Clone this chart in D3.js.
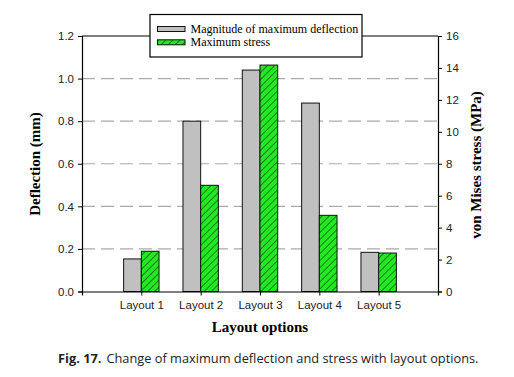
<!DOCTYPE html>
<html><head><meta charset="utf-8">
<script src="https://cdn.jsdelivr.net/npm/d3@7"></script>
<style>body{margin:0;background:#fff}svg{display:block}</style>
</head><body>
<svg id="c" width="514" height="377"></svg>
<script>
const categories = ["Layout 1","Layout 2","Layout 3","Layout 4","Layout 5"];
const deflection = [0.153, 0.80, 1.04, 0.885, 0.184];
const stress = [2.52, 6.65, 14.18, 4.77, 2.41];
const leftTicks = [0,0.2,0.4,0.6,0.8,1.0,1.2];
const rightTicks = [0,2,4,6,8,10,12,14,16];
const seriesNames = ["Magnitude of maximum deflection","Maximum stress"];

const svg = d3.select("#c");
const L=82, R=438, T=36, B=291.5;
const x = d3.scaleLinear().domain([0,6]).range([L,R]);
const yL = d3.scaleLinear().domain([0,1.2]).range([B,T]);
const yR = d3.scaleLinear().domain([0,16]).range([B,T]);
const bw = 17.7;
const green = "#22ea22";

const defs = svg.append("defs");
const pat = defs.append("pattern").attr("id","hatch").attr("patternUnits","userSpaceOnUse")
  .attr("width",5).attr("height",5).attr("patternTransform","rotate(45)");
pat.append("rect").attr("width",5).attr("height",5).attr("fill",green);
pat.append("line").attr("x1",0).attr("y1",0).attr("x2",0).attr("y2",5).attr("stroke","#111").attr("stroke-width",1);

// gridlines
svg.append("g").selectAll("line").data(leftTicks.filter(d=>d>0&&d<1.2)).join("line")
  .attr("x1",L).attr("x2",R).attr("y1",d=>yL(d)).attr("y2",d=>yL(d))
  .attr("stroke","#aaa").attr("stroke-width",1.2).attr("stroke-dasharray","13,6");

// bars
const idx = d3.range(categories.length);
svg.append("g").selectAll("rect").data(idx).join("rect")
  .attr("x",i=>x(i+1)-bw).attr("width",bw)
  .attr("y",i=>yL(deflection[i])).attr("height",i=>B-yL(deflection[i]))
  .attr("fill","#c0c0c0").attr("stroke","#111").attr("stroke-width",1);
svg.append("g").selectAll("rect").data(idx).join("rect")
  .attr("x",i=>x(i+1)).attr("width",bw)
  .attr("y",i=>yR(stress[i])).attr("height",i=>B-yR(stress[i]))
  .attr("fill","url(#hatch)").attr("stroke","#111").attr("stroke-width",1);

// frame top
svg.append("line").attr("x1",L).attr("x2",R).attr("y1",T).attr("y2",T).attr("stroke","#000").attr("stroke-width",1.2);

const tickFont = g=>g.selectAll("text").attr("font-family","'Liberation Sans',Arial,sans-serif").attr("font-size","11.5px").attr("fill","#222");
const axL = svg.append("g").attr("transform",`translate(${L},0)`)
  .call(d3.axisLeft(yL).tickValues(leftTicks).tickFormat(d3.format(".1f")).tickSize(4).tickPadding(4));
const axR = svg.append("g").attr("transform",`translate(${R},0)`)
  .call(d3.axisRight(yR).tickValues(rightTicks).tickFormat(d3.format("d")).tickSize(4).tickPadding(4));
const axB = svg.append("g").attr("transform",`translate(0,${B})`)
  .call(d3.axisBottom(x).tickValues(idx.map(i=>i+1)).tickFormat(d=>categories[d-1]).tickSize(4).tickPadding(5));
[axL,axR,axB].forEach(a=>{a.call(tickFont);a.select(".domain").attr("stroke","#000").attr("stroke-width",1.2);a.selectAll(".tick line").attr("stroke","#000");});

// titles
const serif = "'Liberation Serif','Times New Roman',serif";
svg.append("text").attr("transform",`translate(40,164) rotate(-90)`).attr("text-anchor","middle")
  .attr("font-family",serif).attr("font-weight","bold").attr("font-size","15px").text("Deflection (mm)");
svg.append("text").attr("transform",`translate(481,165) rotate(-90)`).attr("text-anchor","middle")
  .attr("font-family",serif).attr("font-weight","bold").attr("font-size","15px").text("von Mises stress (MPa)");
svg.append("text").attr("x",260).attr("y",332).attr("text-anchor","middle")
  .attr("font-family",serif).attr("font-weight","bold").attr("font-size","15px").text("Layout options");

// legend
const lg = svg.append("g");
lg.append("rect").attr("x",150).attr("y",14.5).attr("width",212).attr("height",42.5).attr("fill","#fff").attr("stroke","#000").attr("stroke-width",1.2);
const fills = ["#c0c0c0","url(#hatch)"];
seriesNames.forEach((n,i)=>{
  lg.append("rect").attr("x",157.5).attr("y",26.5+i*13.3).attr("width",27.5).attr("height",5).attr("fill",fills[i]).attr("stroke","#111").attr("stroke-width",1);
  lg.append("text").attr("x",190.5).attr("y",32.5+i*13.3).attr("font-family",serif).attr("font-size","12px").text(n);
});

// caption
const cap = svg.append("text").attr("x",58).attr("y",363).attr("font-family","'Open Sans','Noto Sans',sans-serif").attr("font-size","12.8px").attr("fill","#222");
cap.append("tspan").attr("font-weight","bold").text("Fig. 17.");
cap.append("tspan").attr("dx",5).text("Change of maximum deflection and stress with layout options.");
</script>
</body></html>
